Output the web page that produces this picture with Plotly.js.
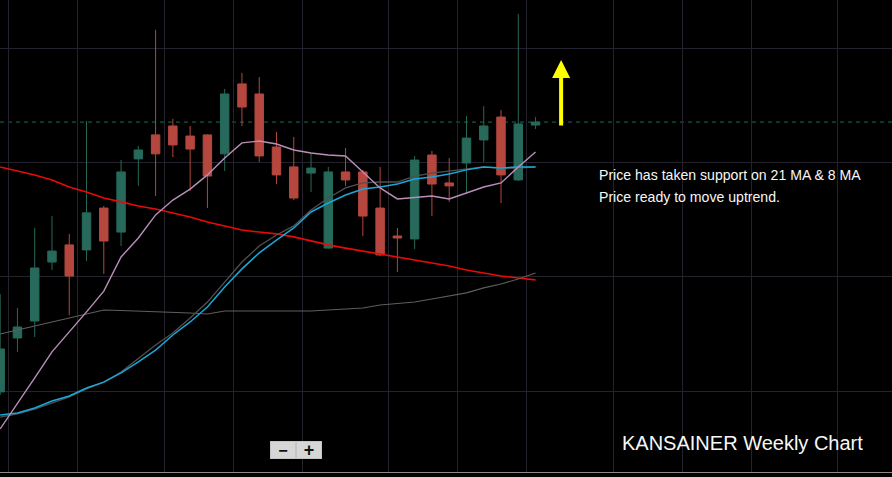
<!DOCTYPE html>
<html>
<head>
<meta charset="utf-8">
<script src="https://cdn.plot.ly/plotly-3.0.1.min.js"></script>
<style>
html,body{margin:0;padding:0;background:#000;}
#chart{width:892px;height:477px;}
</style>
</head>
<body>
<div id="chart"></div>
<script>
// week index of each candle
const weeks = [0,1,2,3,4,5,6,7,8,9,10,11,12,13,14,15,16,17,18,19,20,21,22,23,24,25,26,27,28,29,30,31];
const opens  = [499.6,523.2,530.6,556.4,563.9,561.7,580.0,569.5,601.5,612.0,615.9,611.5,612.0,603.7,634.3,629.9,606.7,598.0,595.3,562.5,595.8,595.8,580.0,567.8,566.5,603.2,591.0,599.7,609.8,619.8,592.3,616.3];
const highs  = [542.4,536.3,571.3,576.5,568.7,618.1,580.9,601.0,607.1,657.9,619.0,615.9,612.2,632.1,639.1,637.3,613.3,611.1,604.1,598.0,606.3,596.7,598.0,571.3,602.8,605.0,601.9,620.3,624.6,622.9,664.9,619.8];
const lows   = [498.3,517.1,523.6,552.9,533.2,556.9,551.2,563.4,589.7,585.3,602.3,587.5,580.0,596.2,615.9,600.2,590.5,583.5,587.0,562.3,589.7,567.8,559.0,552.0,562.1,576.5,582.7,586.2,600.2,582.2,591.8,614.6];
const closes = [518.4,528.0,553.8,561.2,550.3,577.9,565.6,595.8,605.4,603.7,607.6,605.8,594.0,629.9,624.2,602.8,594.5,584.4,597.5,595.8,592.3,576.5,559.5,566.9,601.0,590.5,589.7,610.6,615.9,594.5,616.8,617.6];

// moving averages
const ma8   = [483.4,494.3,505.7,517.1,525.8,534.6,543.7,558.6,566.9,577.0,583.5,588.3,594.5,601.9,608.5,609.3,608.0,605.4,604.1,603.2,602.8,595.8,588.8,584.0,584.8,585.3,584.0,586.6,589.2,591.0,598.0,604.5];
const ma21  = [489.5,490.4,492.6,495.6,497.8,501.3,503.9,507.9,512.7,517.9,524.5,530.2,536.7,545.5,553.4,560.4,566.0,571.3,578.3,582.2,585.7,588.3,589.2,590.5,592.7,593.6,594.9,596.7,598.0,597.5,598.0,598.0];
const ma20  = [488.6,490.0,492.1,494.8,497.4,500.9,503.9,508.3,514.4,520.1,525.4,531.9,538.9,547.7,556.4,563.4,568.2,572.2,579.2,584.4,588.8,591.0,591.4,591.4,594.0,595.3,596.2,597.1,598.0,597.5,597.5,598.0];
const ma50  = [524.9,526.7,528.4,530.2,531.9,533.7,535.4,535.2,535.0,534.8,534.6,534.1,533.7,535.0,535.0,535.0,535.0,535.0,535.0,535.4,535.9,536.3,537.6,538.1,538.9,540.2,541.6,542.9,545.1,546.8,549.0,551.6];
const ma200 = [598.0,596.2,594.5,592.3,589.2,587.0,584.4,582.7,580.9,579.6,577.9,576.1,573.9,572.2,570.4,569.5,568.7,567.4,565.6,563.9,562.5,561.2,559.9,558.6,557.3,556.0,554.7,552.9,551.6,550.3,549.4,548.6];

// monthly separators (vertical grid) and price grid
const monthBreaks = [0.5,4.5,9.5,13.5,17.5,22.5,26.5,30.5,35.5,39.5,43.5,48.5];
const priceGrid = [500,550,600,650];

const noteLines = ["Price has taken support on 21 MA & 8 MA", "Price ready to move uptrend."];
const chartTitle = "KANSAINER Weekly Chart";
const arrowWeek = 32.48, arrowFrom = 615.4, arrowTo = 644.8;

const lastPrice = closes[closes.length - 1];

function maTrace(y, color, width) {
  return {type:'scatter', mode:'lines', x:weeks, y:y, line:{color:color, width:width}, hoverinfo:'skip', showlegend:false};
}

const traces = [
  {type:'candlestick', x:weeks, open:opens, high:highs, low:lows, close:closes,
   increasing:{line:{color:'#27695a', width:1}, fillcolor:'#27695a'},
   decreasing:{line:{color:'#b5473e', width:1}, fillcolor:'#b5473e'},
   whiskerwidth:0, showlegend:false, hoverinfo:'skip'},
  maTrace(ma200, '#e80a0a', 1.6),
  maTrace(ma50, '#5e5e5e', 1.1),
  maTrace(ma20, '#505050', 1.3),
  maTrace(ma21, '#1aa7d8', 1.5),
  maTrace(ma8, '#b98fb8', 1.4)
];

const FONT = 'Liberation Sans, Arial, sans-serif';

const layout = {
  width:892, height:477,
  margin:{l:0, r:0, t:0, b:5},
  paper_bgcolor:'#000', plot_bgcolor:'#000',
  showlegend:false,
  xaxis:{range:[-0.01, 51.64], tickvals:monthBreaks, showticklabels:false, ticks:'',
         showgrid:true, gridcolor:'#24222c', gridwidth:1, zeroline:false,
         showline:true, linecolor:'#8a8a8a', linewidth:1,
         rangeslider:{visible:false}, fixedrange:true},
  yaxis:{range:[464.58, 670.99], tickvals:priceGrid, showticklabels:false, ticks:'',
         showgrid:true, gridcolor:'#24222c', gridwidth:1, zeroline:false, fixedrange:true},
  shapes:[
    {type:'line', xref:'paper', x0:0, x1:1, yref:'y', y0:lastPrice, y1:lastPrice,
     line:{color:'#1f6a50', width:1, dash:'4px,4px'}, layer:'below'}
  ],
  annotations:[
    {x:arrowWeek, y:arrowTo, ax:arrowWeek, ay:arrowFrom, xref:'x', yref:'y', axref:'x', ayref:'y',
     text:'', showarrow:true, arrowhead:2, arrowsize:0.9, arrowwidth:4, arrowcolor:'#ffff00', standoff:0, startstandoff:0},
    {xref:'paper', yref:'paper', x:597/892, y:1-175/472, xanchor:'left', yanchor:'middle',
     text:noteLines[0], showarrow:false, font:{family:FONT, size:14.1, color:'#f7f7f7'}},
    {xref:'paper', yref:'paper', x:597/892, y:1-197/472, xanchor:'left', yanchor:'middle',
     text:noteLines[1], showarrow:false, font:{family:FONT, size:14.1, color:'#f7f7f7'}},
    {xref:'paper', yref:'paper', x:865/892, y:1-443/472, xanchor:'right', yanchor:'middle',
     text:chartTitle, showarrow:false, font:{family:FONT, size:20, color:'#f7f7f7'}},
    {xref:'paper', yref:'paper', x:283/892, y:1-450/472, xanchor:'center', yanchor:'middle',
     text:'<b>−</b>', showarrow:false, width:22, height:14, borderpad:1, borderwidth:1,
     bgcolor:'#d6d6d6', bordercolor:'#c4c4c4', font:{family:FONT, size:16, color:'#111'}},
    {xref:'paper', yref:'paper', x:309/892, y:1-450/472, xanchor:'center', yanchor:'middle',
     text:'<b>+</b>', showarrow:false, width:22, height:14, borderpad:1, borderwidth:1,
     bgcolor:'#d6d6d6', bordercolor:'#c4c4c4', font:{family:FONT, size:18, color:'#111'}}
  ]
};

Plotly.newPlot('chart', traces, layout, {displayModeBar:false, staticPlot:true});
</script>
</body>
</html>
